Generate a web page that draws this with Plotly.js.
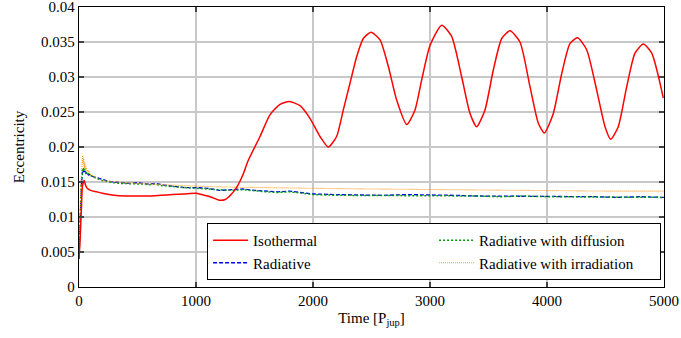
<!DOCTYPE html>
<html>
<head>
<meta charset="utf-8">
<script src="https://cdn.plot.ly/plotly-3.0.1.min.js"></script>
<style>html,body{margin:0;padding:0;background:#fff}#chart{width:681px;height:338px}</style>
</head>
<body>
<div id="chart"></div>
<script>
// ---- data ----
const isoX = [0,10,20,30,45,55,70,100,150,200,300,400,500,600,700,800,900,1000,1050,1100,1150,1200,1250,1300,1350,1400,1447,1547,1632,1718,1798,1889,1974,2060,2131,2202,2259,2316,2373,2430,2496,2573,2644,2715,2801,2872,2929,3000,3100,3185,3271,3342,3399,3470,3541,3613,3684,3769,3855,3926,3977,4054,4126,4197,4262,4339,4425,4496,4544,4609,4681,4752,4823,4895,4994];
const isoY = [0.004,0.007,0.011,0.0145,0.0152,0.0146,0.0141,0.0138,0.0136,0.0134,0.0131,0.013,0.013,0.013,0.0131,0.0132,0.0133,0.0134,0.0132,0.013,0.0127,0.0124,0.0125,0.0132,0.0143,0.0160,0.0181,0.0215,0.0246,0.0261,0.0265,0.0259,0.0241,0.0215,0.0200,0.0215,0.0253,0.0291,0.0329,0.0355,0.0364,0.0353,0.0315,0.0267,0.0232,0.0253,0.0296,0.0345,0.0374,0.0358,0.0300,0.0248,0.0229,0.0253,0.0310,0.0355,0.0366,0.0350,0.0286,0.0234,0.0220,0.0248,0.0305,0.0348,0.0356,0.0339,0.0281,0.0229,0.0211,0.0229,0.0286,0.0334,0.0347,0.0334,0.0270];

const radX = [0,5,10,15,20,25,30,35,40,45,50,60,70,80,90,100,120,150,200,250,300,350,400,450,500,550,600,650,700,750,800,900,1000,1100,1200,1300,1400,1500,1600,1700,1800,1900,2000,2200,2400,2600,2800,3000,3200,3400,3600,3800,4000,4200,4400,4600,4800,5000];
const radY = [0.004,0.006,0.009,0.012,0.0145,0.016,0.0165,0.0163,0.0167,0.0164,0.0166,0.0162,0.0164,0.016,0.0161,0.0159,0.0158,0.0156,0.0153,0.0151,0.0150,0.0149,0.0149,0.0148,0.0149,0.0148,0.0147,0.0148,0.0146,0.0145,0.0144,0.0142,0.0142,0.0141,0.0138,0.0139,0.0140,0.0138,0.0137,0.0136,0.0137,0.0135,0.0133,0.0132,0.0131,0.0131,0.0132,0.0132,0.0131,0.0130,0.0130,0.0130,0.0130,0.0129,0.0129,0.0128,0.0129,0.0128];

const difX = [0,5,10,15,20,25,30,35,40,45,50,60,70,80,90,100,120,150,200,250,300,350,400,450,500,550,600,650,700,750,800,900,1000,1100,1200,1300,1400,1500,1600,1700,1800,1900,2000,2200,2400,2600,2800,3000,3200,3400,3600,3800,4000,4200,4400,4600,4800,5000];
const difY = [0.004,0.006,0.009,0.012,0.0148,0.0162,0.0168,0.0166,0.0171,0.0165,0.0168,0.0163,0.0165,0.0161,0.0160,0.0159,0.0157,0.0155,0.0152,0.0150,0.0149,0.0148,0.0148,0.0147,0.0148,0.0147,0.0146,0.0147,0.0145,0.0144,0.0143,0.0142,0.0141,0.0140,0.0138,0.0138,0.0139,0.0137,0.0136,0.0135,0.0136,0.0134,0.0132,0.0131,0.0131,0.0130,0.0131,0.0131,0.0130,0.0130,0.0129,0.0130,0.0129,0.0129,0.0128,0.0128,0.0128,0.0128];

const irrX = [0,5,10,15,20,25,30,35,40,45,50,55,60,70,80,90,100,120,150,200,250,300,400,500,600,800,1000,1200,1500,2000,2500,3000,3500,4000,4500,5000];
const irrY = [0.004,0.006,0.010,0.014,0.0165,0.0178,0.0188,0.0176,0.0185,0.0170,0.0178,0.0168,0.0172,0.0165,0.0167,0.0162,0.0161,0.0158,0.0155,0.0152,0.0151,0.0150,0.0149,0.0148,0.0147,0.0145,0.0144,0.0143,0.0142,0.0141,0.0140,0.0139,0.0138,0.0138,0.0137,0.0137];

const xTicks = [0,1000,2000,3000,4000,5000];
const yTicks = [0,0.005,0.01,0.015,0.02,0.025,0.03,0.035,0.04];
const yTickText = ['0','0.005','0.01','0.015','0.02','0.025','0.03','0.035','0.04'];

const traces = [
  {x: radX, y: radY, name: 'Radiative', legendrank: 3, mode: 'lines', line: {color: '#0000ff', width: 1.3, dash: '4px,2px'}},
  {x: difX, y: difY, name: 'Radiative with diffusion', legendrank: 2, mode: 'lines', line: {color: '#00a000', width: 1.5, dash: '2px,2px'}},
  {x: irrX, y: irrY, name: 'Radiative with irradiation', legendrank: 4, mode: 'lines', line: {color: '#ff9922', width: 1.1, dash: '1px,1px'}},
  {x: isoX, y: isoY, name: 'Isothermal', legendrank: 1, mode: 'lines', line: {color: '#ff0000', width: 1.5, shape: 'spline', smoothing: 0.6}}
];

const FAM = 'Liberation Serif, Times New Roman, DejaVu Serif, serif';
const font = {family: FAM, color: '#000', size: 15};
const layout = {
  width: 681, height: 338,
  margin: {l: 79, r: 17, t: 7, b: 51, pad: 0},
  paper_bgcolor: '#fff', plot_bgcolor: '#fff',
  font: font,
  showlegend: true,
  xaxis: {
    range: [0, 5000], tickvals: xTicks, ticktext: xTicks.map(String),
    showgrid: true, gridcolor: '#c8c8c8', gridwidth: 1.5,
    showline: true, linecolor: '#000', linewidth: 1.2, mirror: 'allticks',
    ticks: 'inside', ticklen: 5, tickcolor: '#444', tickwidth: 1.5,
    zeroline: false, tickfont: font, ticklabeloverflow: 'allow',
    title: {text: 'Time [P<sub>jup</sub>]', font: font, standoff: 4}
  },
  yaxis: {
    range: [0, 0.04], tickvals: yTicks, ticktext: yTickText,
    showgrid: true, gridcolor: '#c8c8c8', gridwidth: 1.5,
    showline: true, linecolor: '#000', linewidth: 1.2, mirror: 'allticks',
    ticks: 'inside', ticklen: 5, tickcolor: '#444', tickwidth: 1.5,
    zeroline: false, tickfont: font, ticklabeloverflow: 'allow',
    title: {text: 'Eccentricity', font: font, standoff: 12}
  },
  legend: {
    orientation: 'h', x: 0.995, y: 0.025, xanchor: 'right', yanchor: 'bottom',
    bgcolor: '#fff', bordercolor: '#000', borderwidth: 1,
    font: {family: FAM, size: 15, color: '#000'},
    entrywidth: 176, entrywidthmode: 'pixels', traceorder: 'normal',
    itemwidth: 35, tracegroupgap: 0
  }
};
Plotly.newPlot('chart', traces, layout, {staticPlot: true, displayModeBar: false});
</script>
</body>
</html>
